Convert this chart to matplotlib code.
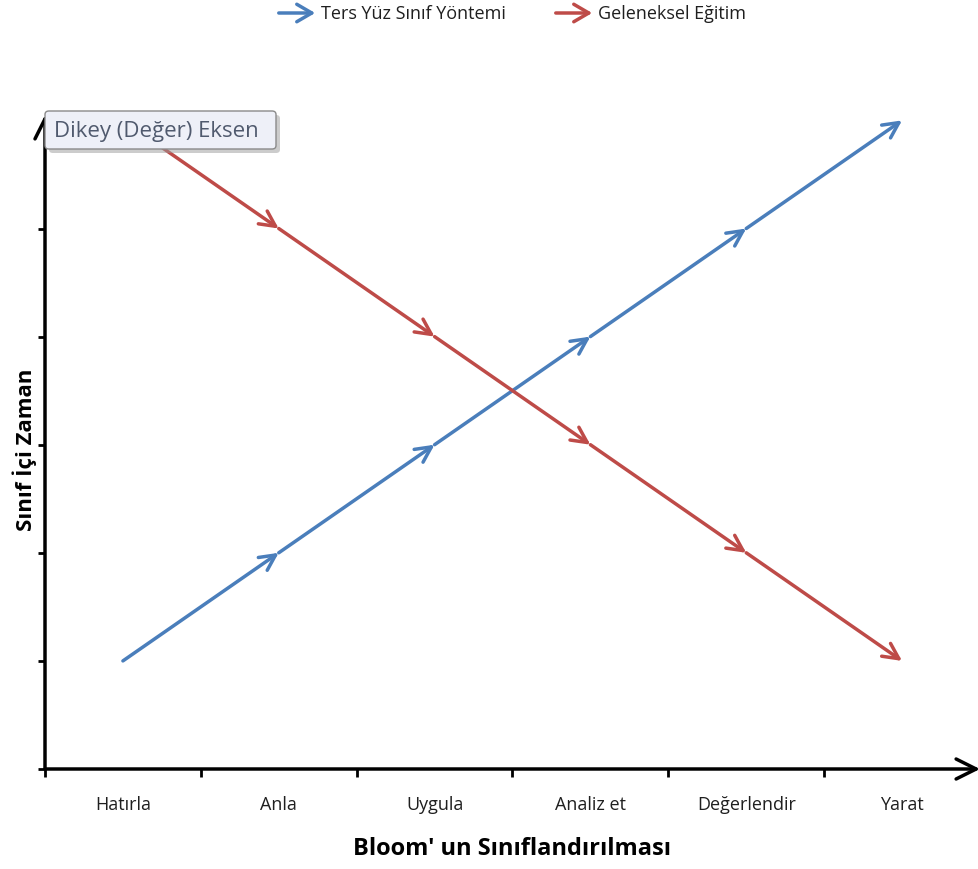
import matplotlib
matplotlib.use("Agg")
import matplotlib.pyplot as plt
import matplotlib.patches as mpatches

categories = ["Hatırla", "Anla", "Uygula", "Analiz et", "Değerlendir", "Yarat"]
flipped = [1, 2, 3, 4, 5, 6]
traditional = [6, 5, 4, 3, 2, 1]
series_names = ["Ters Yüz Sınıf Yöntemi", "Geleneksel Eğitim"]
colors = ["#4A7EBB", "#BE4B48"]

plt.rcParams['font.family'] = ['Open Sans', 'DejaVu Sans']

fig = plt.figure(figsize=(9.79, 8.70), dpi=100)
W, H = 979, 870
ax = fig.add_axes([45 / W, (H - 770) / H, (980 - 45) / W, (770 - 116) / H])
ax.set_xlim(-0.5, 5.5)
ax.set_ylim(0, 6.05)
for s in ax.spines.values():
    s.set_visible(False)

x = list(range(len(categories)))
for vals, c in zip([flipped, traditional], colors):
    for i in range(len(vals) - 1):
        ax.annotate("", xy=(x[i + 1], vals[i + 1]), xytext=(x[i], vals[i]),
                    arrowprops=dict(arrowstyle="->,head_length=0.7,head_width=0.35",
                                    color=c, lw=2.5, shrinkA=0, shrinkB=0,
                                    mutation_scale=16))

# axes with arrowheads
ax.annotate("", xy=(1.0, 0), xytext=(0, 0), xycoords="axes fraction",
            arrowprops=dict(arrowstyle="->,head_length=0.8,head_width=0.4", color="black",
                            lw=2.5, shrinkA=0, shrinkB=0, mutation_scale=18),
            annotation_clip=False)
ax.annotate("", xy=(0, 1.0), xytext=(0, 0), xycoords="axes fraction",
            arrowprops=dict(arrowstyle="->,head_length=0.8,head_width=0.4", color="black",
                            lw=2.5, shrinkA=0, shrinkB=0, mutation_scale=18),
            annotation_clip=False)

ax.set_xticks(x)
ax.set_xticklabels(categories, fontsize=13, color="#1F1F1F")
ax.set_xticks([i - 0.5 for i in x], minor=True)
ax.tick_params(axis="x", which="major", length=0, pad=19)
ax.tick_params(axis="x", which="minor", length=6, width=2, color="black", direction="out")
ax.set_yticks([0, 1, 2, 3, 4, 5])
ax.set_yticklabels([])
ax.tick_params(axis="y", length=5, width=2, color="black", direction="out")

ax.set_xlabel("Bloom' un Sınıflandırılması", fontsize=17, fontweight="bold", labelpad=16)
fig.text(25 / W, 1 - 450 / H, "Sınıf İçi Zaman", rotation=90, fontsize=16,
         fontweight="bold", ha="center", va="center")

# tooltip box
fig.patches.append(mpatches.FancyBboxPatch((49 / W, 1 - 154 / H), 231 / W, 38 / H,
                   boxstyle="round,pad=0,rounding_size=0.004", transform=fig.transFigure,
                   fc="#9A9A9A", ec="none", alpha=0.5, zorder=9))
fig.patches.append(mpatches.FancyBboxPatch((45 / W, 1 - 150 / H), 231 / W, 38 / H,
                   boxstyle="round,pad=0,rounding_size=0.004", transform=fig.transFigure,
                   fc="#EEF0F8", ec="#8A8A8A", lw=1, zorder=10))
fig.text(54 / W, 1 - 131 / H, "Dikey (Değer) Eksen", fontsize=16, color="#505A6E",
         va="center", ha="left", zorder=11)

# legend at top
for k, (name, c) in enumerate(zip(series_names, colors)):
    x0 = [276, 553][k]
    fig.patches.append(mpatches.FancyArrowPatch(
        (x0 / W, 1 - 14 / H), ((x0 + 42) / W, 1 - 14 / H), transform=fig.transFigure,
        arrowstyle="->,head_length=0.6,head_width=0.35", color=c, lw=2.5, mutation_scale=18))
    fig.text((x0 + 45) / W, 1 - 14 / H, name, fontsize=13, va="center", ha="left", color="#1F1F1F")

fig.savefig("out.png", dpi=100)
